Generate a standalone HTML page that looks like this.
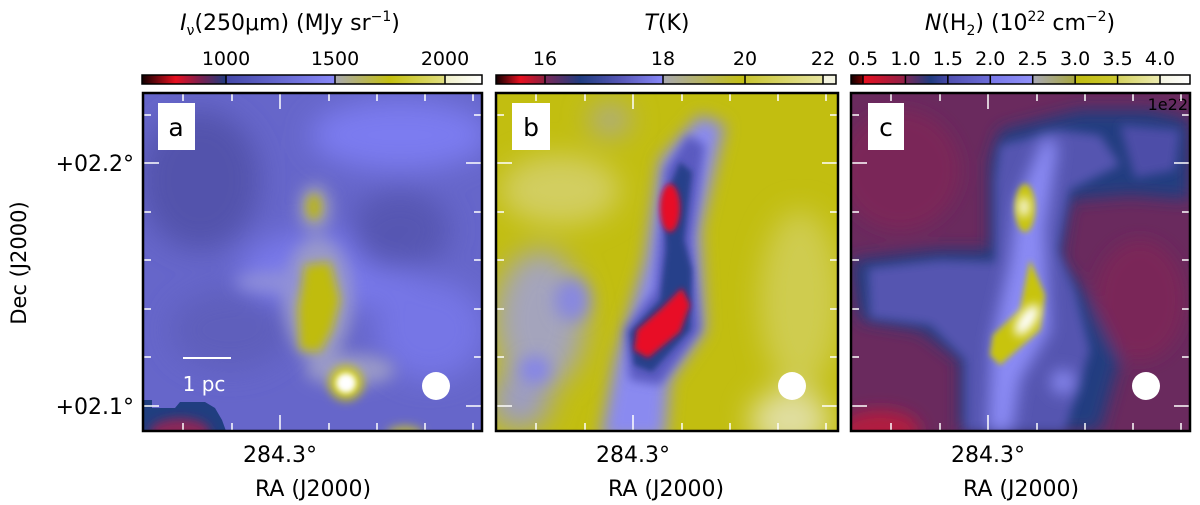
<!DOCTYPE html>
<html><head><meta charset="utf-8"><style>
html,body{margin:0;padding:0;background:#fff;width:1200px;height:505px;overflow:hidden}
svg text{font-family:"DejaVu Sans","Liberation Sans",sans-serif;}
</style></head><body>
<svg id="fig" width="1200" height="505" viewBox="0 0 1200 505" xmlns="http://www.w3.org/2000/svg">
<defs>
 <filter id="b8" x="-50%" y="-50%" width="200%" height="200%"><feGaussianBlur stdDeviation="8"/></filter>
 <filter id="b5" x="-50%" y="-50%" width="200%" height="200%"><feGaussianBlur stdDeviation="5"/></filter>
 <filter id="b3" x="-50%" y="-50%" width="200%" height="200%"><feGaussianBlur stdDeviation="3"/></filter>
 <filter id="b14" x="-50%" y="-50%" width="200%" height="200%"><feGaussianBlur stdDeviation="14"/></filter>
 <clipPath id="ca"><rect x="143" y="93" width="339" height="338"/></clipPath>
 <clipPath id="cb"><rect x="496" y="93" width="342" height="338"/></clipPath>
 <clipPath id="cc"><rect x="851" y="93" width="339" height="338"/></clipPath>
 <linearGradient id="ga1"><stop offset="0" stop-color="#100"/><stop offset="0.4" stop-color="#e81020"/><stop offset="0.7" stop-color="#7a2050"/><stop offset="1" stop-color="#203c80"/></linearGradient>
 <linearGradient id="ga2"><stop offset="0" stop-color="#4448a8"/><stop offset="1" stop-color="#8888f8"/></linearGradient>
 <linearGradient id="ga3"><stop offset="0" stop-color="#a8a8b0"/><stop offset="0.5" stop-color="#c4c010"/><stop offset="1" stop-color="#e0de80"/></linearGradient>
 <linearGradient id="ga4"><stop offset="0" stop-color="#f0f0c8"/><stop offset="1" stop-color="#fff"/></linearGradient>
 <linearGradient id="gb1"><stop offset="0" stop-color="#100"/><stop offset="0.5" stop-color="#e81020"/><stop offset="1" stop-color="#8a2040"/></linearGradient>
 <linearGradient id="gb2"><stop offset="0" stop-color="#7a2858"/><stop offset="0.3" stop-color="#203c80"/><stop offset="0.65" stop-color="#5858b8"/><stop offset="1" stop-color="#8888f8"/></linearGradient>
 <linearGradient id="gb3"><stop offset="0" stop-color="#a8a8b0"/><stop offset="1" stop-color="#c4c010"/></linearGradient>
 <linearGradient id="gb4"><stop offset="0" stop-color="#c8c430"/><stop offset="1" stop-color="#e6e4a0"/></linearGradient>
 <linearGradient id="gc1"><stop offset="0" stop-color="#100"/><stop offset="1" stop-color="#700"/></linearGradient>
 <linearGradient id="gc2"><stop offset="0" stop-color="#e81020"/><stop offset="1" stop-color="#902048"/></linearGradient>
 <linearGradient id="gc3"><stop offset="0" stop-color="#7a2858"/><stop offset="0.6" stop-color="#203c80"/><stop offset="1" stop-color="#4848a8"/></linearGradient>
 <linearGradient id="gc4"><stop offset="0" stop-color="#5050b0"/><stop offset="1" stop-color="#6c6cd8"/></linearGradient>
 <linearGradient id="gc5"><stop offset="0" stop-color="#7878e8"/><stop offset="1" stop-color="#9090f8"/></linearGradient>
 <linearGradient id="gc6"><stop offset="0" stop-color="#a8a8b8"/><stop offset="1" stop-color="#a8a840"/></linearGradient>
 <linearGradient id="gc7"><stop offset="0" stop-color="#c0bc10"/><stop offset="1" stop-color="#ccc830"/></linearGradient>
 <linearGradient id="gc8"><stop offset="0" stop-color="#d4d260"/><stop offset="1" stop-color="#ecebb0"/></linearGradient>
 <linearGradient id="gc9"><stop offset="0" stop-color="#f4f4e0"/><stop offset="1" stop-color="#fff"/></linearGradient>
</defs>

<!-- Panel a -->
<g clip-path="url(#ca)">
 <rect x="143" y="93" width="339" height="338" fill="#6666ca"/>
 <g filter="url(#b14)">
  <ellipse cx="200" cy="180" rx="60" ry="70" fill="#5252ac"/>
  <ellipse cx="400" cy="135" rx="90" ry="35" fill="#7c7cf0"/>
  <ellipse cx="330" cy="270" rx="90" ry="40" fill="#7878ea"/>
  <ellipse cx="430" cy="330" rx="55" ry="50" fill="#7676e6"/>
  <ellipse cx="230" cy="330" rx="60" ry="40" fill="#5e5ebc"/>
  <ellipse cx="400" cy="230" rx="50" ry="40" fill="#5656b2"/>
 </g>
 <g filter="url(#b8)">
  <ellipse cx="318" cy="300" rx="34" ry="62" fill="#9a9ac8"/>
  <ellipse cx="280" cy="282" rx="45" ry="10" fill="#9090d8"/>
  <ellipse cx="315" cy="208" rx="16" ry="24" fill="#9a9ac0"/>
  <ellipse cx="350" cy="370" rx="45" ry="16" fill="#9a9ac8"/>
 </g>
 <g filter="url(#b5)">
  <path d="M305,265 L330,262 L340,300 L332,330 L320,352 L300,350 L298,310 Z" fill="#c0bc08"/>
  <ellipse cx="314" cy="207" rx="8" ry="13" fill="#b8b420"/>
  <circle cx="346" cy="383" r="17" fill="#d0cc10"/>
  <ellipse cx="405" cy="434" rx="18" ry="8" fill="#b8b440"/>
 </g>
 <circle cx="346" cy="383" r="10" fill="#fff" filter="url(#b3)"/>
 <path d="M143,400 L152,400 L152,408 L175,408 L180,402 L205,402 L215,408 L222,420 L226,431 L143,431Z" fill="#203e80"/>
 <ellipse cx="180" cy="432" rx="30" ry="14" fill="#8a2858" filter="url(#b5)"/>
 <line x1="183" y1="358" x2="231" y2="358" stroke="#fff" stroke-width="2"/>
 <text x="204" y="391" fill="#fff" font-size="20" text-anchor="middle">1 pc</text>
 <circle cx="436" cy="386" r="14" fill="#fff"/>
 <rect x="158" y="103" width="37" height="47" fill="#fff"/>
 <text x="176" y="136" font-size="25" text-anchor="middle" fill="#000">a</text>
</g>

<!-- Panel b -->
<g clip-path="url(#cb)">
 <rect x="496" y="93" width="342" height="338" fill="#c2be10"/>
 <g filter="url(#b14)">
  <ellipse cx="560" cy="190" rx="60" ry="35" fill="#d2ce60"/>
  <ellipse cx="800" cy="300" rx="40" ry="90" fill="#cfcc50"/>
  <ellipse cx="790" cy="420" rx="40" ry="30" fill="#e0dea0"/>
  <ellipse cx="540" cy="320" rx="45" ry="70" fill="#a4a4bc"/>
  <ellipse cx="520" cy="400" rx="30" ry="30" fill="#9c9cc4"/>
  <ellipse cx="610" cy="120" rx="20" ry="15" fill="#a8a8a0"/>
 </g>
 <g filter="url(#b8)">
  <ellipse cx="572" cy="300" rx="18" ry="22" fill="#8888e0"/>
  <ellipse cx="535" cy="370" rx="16" ry="14" fill="#8484e8"/>
  <path d="M700,115 L725,125 L700,230 L705,330 L670,380 L665,440 L600,440 L615,360 L645,260 L660,160Z" fill="#8a8af0"/>
 </g>
 <g filter="url(#b5)">
  <path d="M688,135 L705,145 L692,240 L700,330 L660,385 L630,380 L625,330 L655,290 L660,230 L665,170Z" fill="#5a5ac0"/>
 </g>
 <g filter="url(#b3)">
  <path d="M680,162 L692,172 L684,240 L692,270 L690,330 L652,372 L634,365 L630,332 L660,300 L666,250 L664,200Z" fill="#28408a"/>
 </g>
 <g filter="url(#b3)">
  <ellipse cx="670" cy="208" rx="10" ry="24" fill="#e81028"/>
  <path d="M682,288 L690,305 L680,332 L648,358 L634,350 L637,330 L662,308Z" fill="#e81028"/>
 </g>
 <circle cx="792" cy="386" r="14" fill="#fff"/>
 <rect x="512" y="103" width="38" height="47" fill="#fff"/>
 <text x="531" y="136" font-size="25" text-anchor="middle" fill="#000">b</text>
</g>

<!-- Panel c -->
<g clip-path="url(#cc)">
 <rect x="851" y="93" width="339" height="338" fill="#6a2a5e"/>
 <g filter="url(#b8)">
  <ellipse cx="900" cy="170" rx="60" ry="60" fill="#7a2858"/>
  <ellipse cx="1140" cy="300" rx="45" ry="60" fill="#7a2858"/>
  <ellipse cx="880" cy="430" rx="40" ry="20" fill="#b01c40"/>
  <path d="M1000,130 L1080,110 L1150,110 L1190,120 L1190,200 L1130,195 L1070,200 L1060,260 L1090,300 L1120,360 L1100,431 L960,431 L960,360 L920,330 L860,320 L851,260 L940,250 L990,250 L990,160Z" fill="#243e80"/>
 </g>
 <g filter="url(#b5)">
  <path d="M1000,145 L1060,130 L1100,135 L1120,165 L1070,190 L1058,250 L1075,290 L1090,350 L1065,431 L965,431 L965,360 L930,325 L870,318 L868,268 L940,260 L995,262 L995,180Z" fill="#5454b0"/>
  <path d="M1120,125 L1180,130 L1175,170 L1135,178Z" fill="#4e4ea8"/>
 </g>
 <g filter="url(#b8)">
  <path d="M1045,135 L1058,145 L1045,230 L1050,330 L1020,380 L1012,431 L988,431 L992,340 L1010,260 L1017,200Z" fill="#8a8af4"/>
  <circle cx="1063" cy="382" r="12" fill="#8888f0"/>
 </g>
 <g filter="url(#b3)">
  <ellipse cx="1025" cy="208" rx="10" ry="24" fill="#c8c410"/>
  <path d="M1030,260 L1045,295 L1040,330 L1000,365 L990,355 L993,335 L1020,310Z" fill="#c8c410"/>
 </g>
 <g filter="url(#b5)">
  <ellipse cx="1024" cy="207" rx="5" ry="10" fill="#fff"/>
  <ellipse cx="1027" cy="320" rx="8" ry="18" fill="#fff" transform="rotate(35 1027 320)"/>
 </g>
 <circle cx="1146" cy="386" r="14" fill="#fff"/>
 <rect x="868" y="103" width="36" height="47" fill="#fff"/>
 <text x="886" y="136" font-size="25" text-anchor="middle" fill="#000">c</text>
 <text x="1188" y="110" font-size="16" text-anchor="end" fill="#000">1e22</text>
</g>

<!-- Colorbars -->
<g>
 <rect x="142" y="75" width="84" height="9" fill="url(#ga1)"/>
 <rect x="226" y="75" width="109" height="9" fill="url(#ga2)"/>
 <rect x="335" y="75" width="110" height="9" fill="url(#ga3)"/>
 <rect x="445" y="75" width="37" height="9" fill="url(#ga4)"/>
</g>
<g>
 <rect x="496" y="75" width="49" height="9" fill="url(#gb1)"/>
 <rect x="545" y="75" width="118" height="9" fill="url(#gb2)"/>
 <rect x="663" y="75" width="82" height="9" fill="url(#gb3)"/>
 <rect x="745" y="75" width="78" height="9" fill="url(#gb4)"/>
 <rect x="823" y="75" width="13" height="9" fill="#f4f4e0"/>
</g>
<g>
 <rect x="851" y="75" width="12" height="9" fill="url(#gc1)"/>
 <rect x="863" y="75" width="42" height="9" fill="url(#gc2)"/>
 <rect x="905" y="75" width="43" height="9" fill="url(#gc3)"/>
 <rect x="948" y="75" width="42" height="9" fill="url(#gc4)"/>
 <rect x="990" y="75" width="42" height="9" fill="url(#gc5)"/>
 <rect x="1032" y="75" width="43" height="9" fill="url(#gc6)"/>
 <rect x="1075" y="75" width="43" height="9" fill="url(#gc7)"/>
 <rect x="1118" y="75" width="42" height="9" fill="url(#gc8)"/>
 <rect x="1160" y="75" width="30" height="9" fill="url(#gc9)"/>
</g>
<g id="overlay"></g>

<text x="290" y="30" font-size="22" text-anchor="middle"><tspan font-style="italic">I</tspan><tspan font-size="14" dy="5">ν</tspan><tspan dy="-5">(250μm) (MJy sr</tspan><tspan font-size="14" dy="-9">−1</tspan><tspan dy="9">)</tspan></text>
<text x="667" y="30" font-size="22" text-anchor="middle"><tspan font-style="italic">T</tspan>(K)</text>
<text x="1020" y="30" font-size="22" text-anchor="middle"><tspan font-style="italic">N</tspan>(H<tspan font-size="14" dy="5">2</tspan><tspan dy="-5">) (10</tspan><tspan font-size="14" dy="-9">22</tspan><tspan dy="9"> cm</tspan><tspan font-size="14" dy="-9">−2</tspan><tspan dy="9">)</tspan></text>

<text transform="translate(26,263) rotate(-90)" font-size="21" text-anchor="middle">Dec (J2000)</text>
</svg>
<script>
// colorbar tick data
const cbaTicks = [1000, 1500, 2000];
const cbaX = [226, 335, 445];
const cbbTicks = [16, 18, 20, 22];
const cbbX = [545, 663, 745, 823];
const cbcTicks = [0.5, 1.0, 1.5, 2.0, 2.5, 3.0, 3.5, 4.0];
const cbcMin = 0.5, cbcMax = 4.0;
// axis tick labels
const decLabels = ["+02.2°", "+02.1°"];
const decValues = [2.2, 2.1];
const raLabels = ["284.3°", "284.3°", "284.3°"];
const panelLefts = [143, 496, 851];
const panelNames = ['a', 'b', 'c'];

const NS = 'http://www.w3.org/2000/svg';
const ov = document.getElementById('overlay');
const fig = document.getElementById('fig');
function mk(tag, attrs, parent) {
  const e = document.createElementNS(NS, tag);
  for (const k in attrs) e.setAttribute(k, attrs[k]);
  (parent || ov).appendChild(e);
  return e;
}
function decY(v) { return 406 + (2.1 - v) * 2430; }
function cbcX(v) { return 863 + (v - cbcMin) / (cbcMax - cbcMin) * 297; }

function cbTick(x, label, name) {
  const l = mk('line', {x1: x, y1: 75, x2: x, y2: 84, stroke: '#000', 'stroke-width': 1.5});
  
  
  const t = mk('text', {x: x, y: 65, 'font-size': 19, 'text-anchor': 'middle'}, fig);
  t.textContent = label;
  
  
}
cbaTicks.forEach((v, i) => cbTick(cbaX[i], String(v), 'colorbar-a'));
cbbTicks.forEach((v, i) => cbTick(cbbX[i], String(v), 'colorbar-b'));
cbcTicks.forEach(v => cbTick(cbcX(v), v.toFixed(1), 'colorbar-c'));
[[142, 340], [496, 340], [851, 339]].forEach(([x, w]) => {
  const r = mk('rect', {x: x, y: 75, width: w, height: 9, fill: 'none', stroke: '#000', 'stroke-width': 1.5});
  
  
});

const xOff = [40, 89, 137, 186, 234, 282, 330];
const yT = [115, 163, 212, 260, 309, 357, 406];
panelLefts.forEach((L, p) => {
  const W = p === 1 ? 342 : 339;
  xOff.forEach((o, i) => {
    const len = i === 2 ? 16 : 8;
    const t1 = mk('line', {x1: L + o, y1: 431, x2: L + o, y2: 431 - len, stroke: '#fff', 'stroke-width': 1.5});
    
    
    const t2 = mk('line', {x1: L + o, y1: 93, x2: L + o, y2: 93 + len, stroke: '#fff', 'stroke-width': 1.5});
    
    
  });
  yT.forEach((y, i) => {
    const len = (i === 1 || i === 6) ? 16 : 8;
    const t1 = mk('line', {x1: L, y1: y, x2: L + len, y2: y, stroke: '#fff', 'stroke-width': 1.5});
    
    
    const t2 = mk('line', {x1: L + W, y1: y, x2: L + W - len, y2: y, stroke: '#fff', 'stroke-width': 1.5});
    
    
  });
  const fr = mk('rect', {x: L, y: 93, width: W, height: 338, fill: 'none', stroke: '#000', 'stroke-width': 2.5});
  
  
  const rl = mk('text', {x: L + 137, y: 462, 'font-size': 22, 'text-anchor': 'middle'}, fig);
  rl.textContent = raLabels[p];
  
  
  const xt = mk('text', {x: L + 170, y: 496, 'font-size': 22, 'text-anchor': 'middle'}, fig);
  xt.textContent = 'RA (J2000)';
  
  
});
decLabels.forEach((s, i) => {
  const t = mk('text', {x: 134, y: decY(decValues[i]) + 8, 'font-size': 22, 'text-anchor': 'end'}, fig);
  t.textContent = s;
  
  
});
</script>
</body></html>
